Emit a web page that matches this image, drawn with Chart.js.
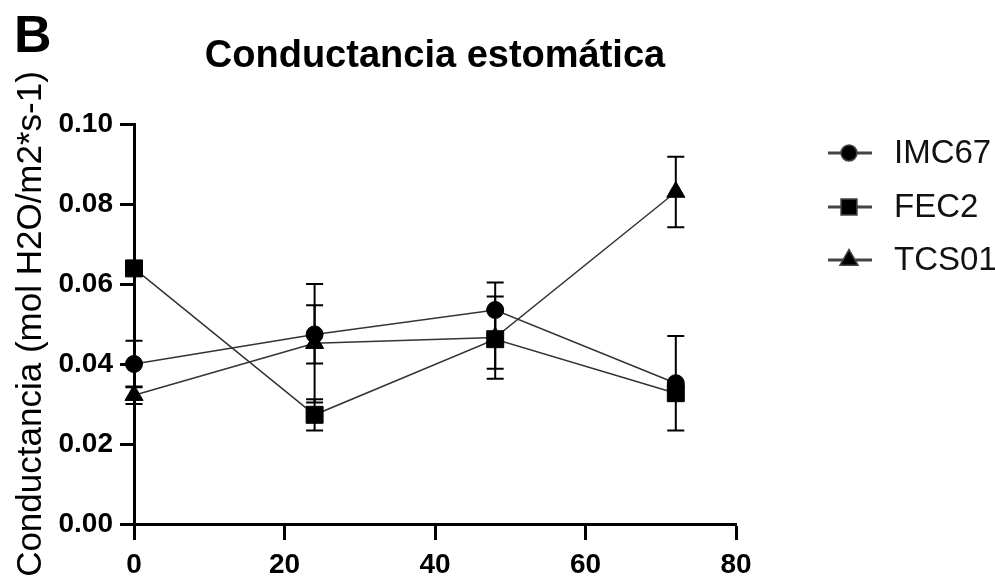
<!DOCTYPE html>
<html>
<head>
<meta charset="utf-8">
<script src="https://cdn.jsdelivr.net/npm/chart.js@4.4.1/dist/chart.umd.min.js"></script>
<style>
  html, body { margin: 0; padding: 0; background: #fff; }
  #wrap { width: 995px; height: 580px; }
</style>
</head>
<body>
<div id="wrap"><canvas id="grafica" width="995" height="580"></canvas></div>
<script>
// horas de muestreo
const horas = [0, 24, 48, 72];

// conductancia media por genotipo
const imc67 = [0.0400, 0.0474, 0.0535, 0.0352];
const fec2 = [0.0639, 0.0273, 0.0462, 0.0327];
const tcs01 = [0.0322, 0.0452, 0.0466, 0.0830];

// error estándar
const imc67Err = [0.0058, 0.0073, 0.0069, 0.0118];
const fec2Err = [0.0010, 0.0039, 0.0074, 0.0015];
const tcs01Err = [0.0022, 0.0148, 0.0103, 0.0088];

const genotipos = ['IMC67', 'FEC2', 'TCS01'];
const marcadores = ['circle', 'rect', 'triangle'];
const radios = [8.5, 12, 10.5];
const errores = [imc67Err, fec2Err, tcs01Err];

const fuente = "'Liberation Sans', Arial, sans-serif";

function puntos(serie) {
    return horas.map(function (h, i) { return { x: h, y: serie[i] }; });
}

// barras de error (debajo de los marcadores)
const barrasError = {
    id: 'barrasError',
    beforeDatasetsDraw(chart) {
        const ctx = chart.ctx;
        const y = chart.scales.y;
        ctx.save();
        ctx.strokeStyle = '#000';
        ctx.lineWidth = 2;
        chart.data.datasets.forEach(function (ds, di) {
            const meta = chart.getDatasetMeta(di);
            meta.data.forEach(function (pt, i) {
                const v = ds.data[i].y;
                const e = errores[di][i];
                const arriba = y.getPixelForValue(v + e);
                const abajo = y.getPixelForValue(v - e);
                const cap = 8.5;
                ctx.beginPath();
                ctx.moveTo(pt.x, arriba);
                ctx.lineTo(pt.x, abajo);
                ctx.moveTo(pt.x - cap, arriba);
                ctx.lineTo(pt.x + cap, arriba);
                ctx.moveTo(pt.x - cap, abajo);
                ctx.lineTo(pt.x + cap, abajo);
                ctx.stroke();
            });
        });
        ctx.restore();
    }
};

// letra del panel y leyenda con línea + marcador
const extras = {
    id: 'extras',
    afterDraw(chart) {
        const ctx = chart.ctx;
        ctx.save();
        ctx.fillStyle = '#000';
        ctx.font = 'bold 52px ' + fuente;
        ctx.textBaseline = 'alphabetic';
        ctx.textAlign = 'left';
        ctx.fillText('B', 14, 52);

        const filas = [153, 207, 260];
        chart.data.datasets.forEach(function (ds, i) {
            const fy = filas[i];
            ctx.strokeStyle = '#444';
            ctx.lineWidth = 3;
            ctx.beginPath();
            ctx.moveTo(828, fy);
            ctx.lineTo(872, fy);
            ctx.stroke();
            Chart.helpers.drawPoint(ctx, {
                pointStyle: marcadores[i],
                radius: radios[i] * 0.85,
                borderWidth: 1,
                rotation: 0
            }, 849, fy);
            ctx.fillStyle = '#000';
            ctx.strokeStyle = '#000';
            ctx.fill();
            ctx.fillStyle = '#111';
            ctx.font = '33px ' + fuente;
            ctx.textBaseline = 'middle';
            ctx.fillText(ds.label, 894, fy + 1);
        });
        ctx.restore();
    }
};

const datasets = genotipos.map(function (g, i) {
    return {
        label: g,
        data: puntos([imc67, fec2, tcs01][i]),
        borderColor: '#333',
        borderWidth: 1.5,
        pointStyle: marcadores[i],
        pointRadius: radios[i],
        pointBackgroundColor: '#000',
        pointBorderColor: '#000',
        pointBorderWidth: 1,
        pointHoverRadius: radios[i],
        clip: false,
        tension: 0
    };
});

const ctx = document.getElementById('grafica').getContext('2d');
const chart = new Chart(ctx, {
    type: 'line',
    data: { datasets: datasets },
    options: {
        responsive: false,
        animation: false,
        events: [],
        layout: { padding: { top: 0, left: 0, right: 259, bottom: 0 } },
        plugins: {
            legend: { display: false },
            tooltip: { enabled: false },
            title: {
                display: true,
                text: 'Conductancia estomática',
                color: '#000',
                fullSize: false,
                font: { family: fuente, size: 38, weight: 'bold' },
                padding: { top: 34, bottom: 44.4 }
            }
        },
        scales: {
            x: {
                type: 'linear',
                min: 0,
                max: 80,
                ticks: {
                    stepSize: 20,
                    color: '#000',
                    padding: 8,
                    font: { family: fuente, size: 28, weight: 'bold' }
                },
                grid: {
                    drawOnChartArea: false,
                    drawTicks: true,
                    tickLength: 16,
                    tickWidth: 3,
                    tickColor: '#000',
                    color: '#000'
                },
                border: { display: true, color: '#000', width: 3 },
                afterFit: function (scale) { scale.height = 56; }
            },
            y: {
                min: 0,
                max: 0.1,
                ticks: {
                    stepSize: 0.02,
                    color: '#000',
                    padding: 7,
                    font: { family: fuente, size: 28, weight: 'bold' },
                    callback: function (v) { return v.toFixed(2); }
                },
                grid: {
                    drawOnChartArea: false,
                    drawTicks: true,
                    tickLength: 14,
                    tickWidth: 3,
                    tickColor: '#000',
                    color: '#000'
                },
                border: { display: true, color: '#000', width: 3 },
                title: {
                    display: true,
                    text: 'Conductancia (mol H2O/m2*s-1)',
                    color: '#000',
                    font: { family: fuente, size: 35 },
                    padding: { top: 10, bottom: 0 }
                },
                afterFit: function (scale) { scale.width = 134; }
            }
        }
    },
    plugins: [barrasError, extras]
});
</script>
</body>
</html>
